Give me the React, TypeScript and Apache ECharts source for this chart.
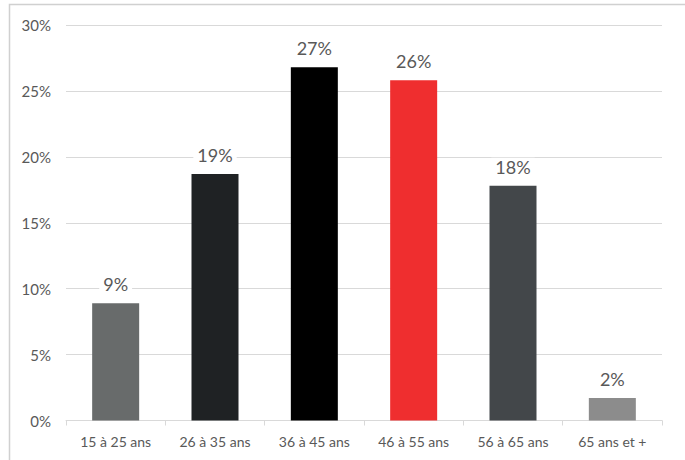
import React, { useEffect, useRef } from "react";
import * as echarts from "echarts";

const categories = ["15 à 25 ans", "26 à 35 ans", "36 à 45 ans", "46 à 55 ans", "56 à 65 ans", "65 ans et +"];
const values = [8.9, 18.7, 26.8, 25.8, 17.8, 1.7];
const barColors = ["#686b6b", "#1f2224", "#000000", "#ef2e2f", "#43474a", "#8c8c8c"];
const yTicks = [0, 5, 10, 15, 20, 25, 30];

export default function App() {
  const ref = useRef<HTMLDivElement>(null);
  useEffect(() => {
    if (!ref.current) return;
    const chart = echarts.init(ref.current, null, { renderer: "svg" });
    const font = "Lato, 'Open Sans', sans-serif";
    chart.setOption({
      animation: false,
      backgroundColor: "#ffffff",
      textStyle: { fontFamily: font },
      graphic: [
        {
          type: "rect",
          shape: { x: 9.5, y: 4.5, width: 720, height: 500 },
          style: { fill: "none", stroke: "#d0d0d0", lineWidth: 1.5 },
          silent: true,
        },
      ],
      grid: { left: 66, right: 23, top: 25, bottom: 39.5 },
      xAxis: {
        type: "category",
        data: categories,
        axisLine: { lineStyle: { color: "#d9d9d9", width: 1 } },
        axisTick: { show: true, length: 5, lineStyle: { color: "#d9d9d9" } },
        axisLabel: { color: "#595959", fontSize: 14, margin: 14, fontFamily: font },
      },
      yAxis: {
        type: "value",
        min: yTicks[0],
        max: yTicks[yTicks.length - 1],
        interval: 5,
        axisLine: { show: false },
        axisTick: { show: false },
        splitLine: { lineStyle: { color: "#d9d9d9", width: 1 } },
        axisLabel: { color: "#595959", fontSize: 15, margin: 15, formatter: (v: number) => v + "%", fontFamily: font },
      },
      series: [
        {
          type: "bar",
          data: values.map((v, i) => ({ value: v, itemStyle: { color: barColors[i] } })),
          barWidth: 47,
          label: {
            show: true,
            position: "top",
            distance: 10,
            color: "#595959",
            fontSize: 18,
            fontFamily: font,
            backgroundColor: "#ffffff",
            padding: [0, 4],
            formatter: (p: any) => Math.round(p.value) + "%",
          },
        },
      ],
    });
    return () => chart.dispose();
  }, []);
  return <div ref={ref} style={{ position: "fixed", left: 0, top: 0, width: 685, height: 460 }} />;
}
